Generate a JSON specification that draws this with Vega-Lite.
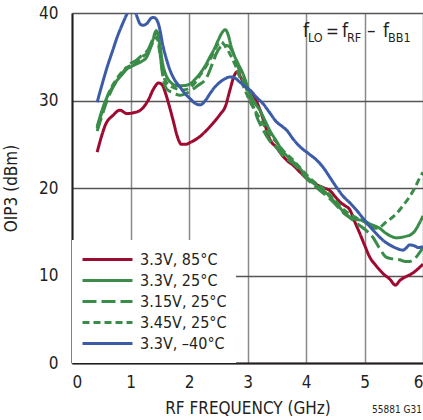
{
  "$schema": "https://vega.github.io/schema/vega-lite/v6.json",
  "autosize": {"type": "none"},
  "width": 351,
  "height": 350,
  "padding": {"left": 72, "top": 13, "right": 0, "bottom": 57},
  "background": "white",
  "config": {
    "font": "'Liberation Sans Narrow', 'DejaVu Sans Condensed', sans-serif",
    "view": {"stroke": null},
    "text": {"font": "'Liberation Sans Narrow', 'DejaVu Sans Condensed', sans-serif"},
    "axis": {"labelFont": "'Liberation Sans Narrow', 'DejaVu Sans Condensed', sans-serif", "titleFont": "'Liberation Sans Narrow', 'DejaVu Sans Condensed', sans-serif", "labelFontSize": 17, "titleFontSize": 17, "titleFontWeight": "normal", "labelColor": "#231f20", "titleColor": "#231f20", "domainColor": "#231f20", "domainWidth": 2, "ticks": false, "gridWidth": 1.5},
    "legend": {"labelFont": "'Liberation Sans Narrow', 'DejaVu Sans Condensed', sans-serif"}
  },
  "datasets": {
    "curves": [
      {"s": "3.3V, 85°C", "f": 0.43, "v": 24.1}, {"s": "3.3V, 85°C", "f": 0.50, "v": 25.8}, {"s": "3.3V, 85°C", "f": 0.57, "v": 27.2}, {"s": "3.3V, 85°C", "f": 0.70, "v": 28.3}, {"s": "3.3V, 85°C", "f": 0.82, "v": 28.9}, {"s": "3.3V, 85°C", "f": 0.94, "v": 28.5}, {"s": "3.3V, 85°C", "f": 1.05, "v": 28.6}, {"s": "3.3V, 85°C", "f": 1.17, "v": 28.9}, {"s": "3.3V, 85°C", "f": 1.30, "v": 30.0}, {"s": "3.3V, 85°C", "f": 1.40, "v": 31.4}, {"s": "3.3V, 85°C", "f": 1.48, "v": 32.0}, {"s": "3.3V, 85°C", "f": 1.54, "v": 31.8}, {"s": "3.3V, 85°C", "f": 1.60, "v": 30.8}, {"s": "3.3V, 85°C", "f": 1.67, "v": 29.2}, {"s": "3.3V, 85°C", "f": 1.73, "v": 27.7}, {"s": "3.3V, 85°C", "f": 1.80, "v": 25.9}, {"s": "3.3V, 85°C", "f": 1.87, "v": 25.0}, {"s": "3.3V, 85°C", "f": 1.95, "v": 25.0}, {"s": "3.3V, 85°C", "f": 2.02, "v": 25.2}, {"s": "3.3V, 85°C", "f": 2.19, "v": 25.9}, {"s": "3.3V, 85°C", "f": 2.30, "v": 26.6}, {"s": "3.3V, 85°C", "f": 2.41, "v": 27.4}, {"s": "3.3V, 85°C", "f": 2.53, "v": 28.4}, {"s": "3.3V, 85°C", "f": 2.62, "v": 29.3}, {"s": "3.3V, 85°C", "f": 2.70, "v": 31.2}, {"s": "3.3V, 85°C", "f": 2.77, "v": 32.8}, {"s": "3.3V, 85°C", "f": 2.83, "v": 33.3}, {"s": "3.3V, 85°C", "f": 2.88, "v": 32.7}, {"s": "3.3V, 85°C", "f": 2.95, "v": 31.8}, {"s": "3.3V, 85°C", "f": 3.04, "v": 31.0}, {"s": "3.3V, 85°C", "f": 3.10, "v": 30.6}, {"s": "3.3V, 85°C", "f": 3.16, "v": 29.8}, {"s": "3.3V, 85°C", "f": 3.21, "v": 29.0}, {"s": "3.3V, 85°C", "f": 3.30, "v": 27.2}, {"s": "3.3V, 85°C", "f": 3.38, "v": 25.6}, {"s": "3.3V, 85°C", "f": 3.50, "v": 24.6}, {"s": "3.3V, 85°C", "f": 3.61, "v": 23.6}, {"s": "3.3V, 85°C", "f": 3.70, "v": 23.0}, {"s": "3.3V, 85°C", "f": 3.78, "v": 22.6}, {"s": "3.3V, 85°C", "f": 3.90, "v": 21.8}, {"s": "3.3V, 85°C", "f": 4.01, "v": 21.1}, {"s": "3.3V, 85°C", "f": 4.10, "v": 20.7}, {"s": "3.3V, 85°C", "f": 4.21, "v": 20.3}, {"s": "3.3V, 85°C", "f": 4.31, "v": 20.0}, {"s": "3.3V, 85°C", "f": 4.41, "v": 19.7}, {"s": "3.3V, 85°C", "f": 4.50, "v": 19.0}, {"s": "3.3V, 85°C", "f": 4.58, "v": 18.4}, {"s": "3.3V, 85°C", "f": 4.66, "v": 18.0}, {"s": "3.3V, 85°C", "f": 4.75, "v": 17.5}, {"s": "3.3V, 85°C", "f": 4.83, "v": 16.2}, {"s": "3.3V, 85°C", "f": 4.92, "v": 14.8}, {"s": "3.3V, 85°C", "f": 5.00, "v": 13.5}, {"s": "3.3V, 85°C", "f": 5.09, "v": 12.1}, {"s": "3.3V, 85°C", "f": 5.20, "v": 11.1}, {"s": "3.3V, 85°C", "f": 5.32, "v": 10.2}, {"s": "3.3V, 85°C", "f": 5.43, "v": 9.6}, {"s": "3.3V, 85°C", "f": 5.53, "v": 8.9}, {"s": "3.3V, 85°C", "f": 5.60, "v": 9.4}, {"s": "3.3V, 85°C", "f": 5.66, "v": 9.7}, {"s": "3.3V, 85°C", "f": 5.75, "v": 10.0}, {"s": "3.3V, 85°C", "f": 5.83, "v": 10.3}, {"s": "3.3V, 85°C", "f": 5.92, "v": 10.8}, {"s": "3.3V, 85°C", "f": 6.00, "v": 11.3},

      {"s": "3.3V, 25°C", "f": 0.43, "v": 27.0}, {"s": "3.3V, 25°C", "f": 0.50, "v": 28.6}, {"s": "3.3V, 25°C", "f": 0.60, "v": 30.4}, {"s": "3.3V, 25°C", "f": 0.70, "v": 31.6}, {"s": "3.3V, 25°C", "f": 0.77, "v": 32.3}, {"s": "3.3V, 25°C", "f": 0.86, "v": 33.0}, {"s": "3.3V, 25°C", "f": 0.94, "v": 33.6}, {"s": "3.3V, 25°C", "f": 1.02, "v": 33.9}, {"s": "3.3V, 25°C", "f": 1.11, "v": 34.2}, {"s": "3.3V, 25°C", "f": 1.20, "v": 34.5}, {"s": "3.3V, 25°C", "f": 1.28, "v": 35.0}, {"s": "3.3V, 25°C", "f": 1.35, "v": 36.2}, {"s": "3.3V, 25°C", "f": 1.42, "v": 37.6}, {"s": "3.3V, 25°C", "f": 1.46, "v": 37.8}, {"s": "3.3V, 25°C", "f": 1.50, "v": 36.5}, {"s": "3.3V, 25°C", "f": 1.54, "v": 34.6}, {"s": "3.3V, 25°C", "f": 1.58, "v": 33.4}, {"s": "3.3V, 25°C", "f": 1.62, "v": 32.7}, {"s": "3.3V, 25°C", "f": 1.70, "v": 32.0}, {"s": "3.3V, 25°C", "f": 1.79, "v": 31.7}, {"s": "3.3V, 25°C", "f": 1.90, "v": 31.7}, {"s": "3.3V, 25°C", "f": 2.02, "v": 31.9}, {"s": "3.3V, 25°C", "f": 2.10, "v": 32.4}, {"s": "3.3V, 25°C", "f": 2.19, "v": 33.1}, {"s": "3.3V, 25°C", "f": 2.28, "v": 34.0}, {"s": "3.3V, 25°C", "f": 2.36, "v": 35.0}, {"s": "3.3V, 25°C", "f": 2.44, "v": 36.0}, {"s": "3.3V, 25°C", "f": 2.50, "v": 36.9}, {"s": "3.3V, 25°C", "f": 2.57, "v": 37.8}, {"s": "3.3V, 25°C", "f": 2.62, "v": 38.1}, {"s": "3.3V, 25°C", "f": 2.67, "v": 37.5}, {"s": "3.3V, 25°C", "f": 2.72, "v": 36.2}, {"s": "3.3V, 25°C", "f": 2.76, "v": 35.4}, {"s": "3.3V, 25°C", "f": 2.84, "v": 34.2}, {"s": "3.3V, 25°C", "f": 2.92, "v": 33.1}, {"s": "3.3V, 25°C", "f": 2.98, "v": 32.0}, {"s": "3.3V, 25°C", "f": 3.04, "v": 30.8}, {"s": "3.3V, 25°C", "f": 3.12, "v": 29.8}, {"s": "3.3V, 25°C", "f": 3.21, "v": 28.9}, {"s": "3.3V, 25°C", "f": 3.30, "v": 27.7}, {"s": "3.3V, 25°C", "f": 3.38, "v": 26.6}, {"s": "3.3V, 25°C", "f": 3.50, "v": 25.3}, {"s": "3.3V, 25°C", "f": 3.60, "v": 24.2}, {"s": "3.3V, 25°C", "f": 3.70, "v": 23.5}, {"s": "3.3V, 25°C", "f": 3.78, "v": 23.0}, {"s": "3.3V, 25°C", "f": 3.90, "v": 22.2}, {"s": "3.3V, 25°C", "f": 4.01, "v": 21.3}, {"s": "3.3V, 25°C", "f": 4.12, "v": 20.6}, {"s": "3.3V, 25°C", "f": 4.24, "v": 20.0}, {"s": "3.3V, 25°C", "f": 4.35, "v": 19.4}, {"s": "3.3V, 25°C", "f": 4.45, "v": 18.7}, {"s": "3.3V, 25°C", "f": 4.55, "v": 18.0}, {"s": "3.3V, 25°C", "f": 4.65, "v": 17.2}, {"s": "3.3V, 25°C", "f": 4.75, "v": 16.7}, {"s": "3.3V, 25°C", "f": 4.86, "v": 16.4}, {"s": "3.3V, 25°C", "f": 4.98, "v": 16.3}, {"s": "3.3V, 25°C", "f": 5.09, "v": 15.9}, {"s": "3.3V, 25°C", "f": 5.20, "v": 15.6}, {"s": "3.3V, 25°C", "f": 5.26, "v": 15.4}, {"s": "3.3V, 25°C", "f": 5.35, "v": 14.9}, {"s": "3.3V, 25°C", "f": 5.45, "v": 14.5}, {"s": "3.3V, 25°C", "f": 5.55, "v": 14.3}, {"s": "3.3V, 25°C", "f": 5.66, "v": 14.4}, {"s": "3.3V, 25°C", "f": 5.72, "v": 14.5}, {"s": "3.3V, 25°C", "f": 5.77, "v": 14.6}, {"s": "3.3V, 25°C", "f": 5.85, "v": 15.0}, {"s": "3.3V, 25°C", "f": 5.94, "v": 16.0}, {"s": "3.3V, 25°C", "f": 6.00, "v": 16.8},

      {"s": "3.15V, 25°C", "f": 0.43, "v": 26.5}, {"s": "3.15V, 25°C", "f": 0.50, "v": 28.0}, {"s": "3.15V, 25°C", "f": 0.60, "v": 30.0}, {"s": "3.15V, 25°C", "f": 0.70, "v": 31.5}, {"s": "3.15V, 25°C", "f": 0.80, "v": 32.6}, {"s": "3.15V, 25°C", "f": 0.90, "v": 33.5}, {"s": "3.15V, 25°C", "f": 1.00, "v": 34.2}, {"s": "3.15V, 25°C", "f": 1.10, "v": 34.6}, {"s": "3.15V, 25°C", "f": 1.20, "v": 35.2}, {"s": "3.15V, 25°C", "f": 1.30, "v": 35.8}, {"s": "3.15V, 25°C", "f": 1.38, "v": 37.0}, {"s": "3.15V, 25°C", "f": 1.44, "v": 38.0}, {"s": "3.15V, 25°C", "f": 1.48, "v": 37.0}, {"s": "3.15V, 25°C", "f": 1.52, "v": 34.5}, {"s": "3.15V, 25°C", "f": 1.56, "v": 32.5}, {"s": "3.15V, 25°C", "f": 1.62, "v": 31.3}, {"s": "3.15V, 25°C", "f": 1.72, "v": 30.9}, {"s": "3.15V, 25°C", "f": 1.85, "v": 30.6}, {"s": "3.15V, 25°C", "f": 1.95, "v": 30.8}, {"s": "3.15V, 25°C", "f": 2.05, "v": 31.2}, {"s": "3.15V, 25°C", "f": 2.15, "v": 31.7}, {"s": "3.15V, 25°C", "f": 2.30, "v": 32.6}, {"s": "3.15V, 25°C", "f": 2.40, "v": 34.2}, {"s": "3.15V, 25°C", "f": 2.47, "v": 35.4}, {"s": "3.15V, 25°C", "f": 2.56, "v": 36.2}, {"s": "3.15V, 25°C", "f": 2.64, "v": 36.3}, {"s": "3.15V, 25°C", "f": 2.70, "v": 36.1}, {"s": "3.15V, 25°C", "f": 2.76, "v": 35.3}, {"s": "3.15V, 25°C", "f": 2.82, "v": 34.2}, {"s": "3.15V, 25°C", "f": 2.90, "v": 32.7}, {"s": "3.15V, 25°C", "f": 2.99, "v": 31.2}, {"s": "3.15V, 25°C", "f": 3.10, "v": 29.3}, {"s": "3.15V, 25°C", "f": 3.18, "v": 27.8}, {"s": "3.15V, 25°C", "f": 3.27, "v": 26.6}, {"s": "3.15V, 25°C", "f": 3.38, "v": 25.4}, {"s": "3.15V, 25°C", "f": 3.50, "v": 24.6}, {"s": "3.15V, 25°C", "f": 3.62, "v": 23.6}, {"s": "3.15V, 25°C", "f": 3.78, "v": 22.8}, {"s": "3.15V, 25°C", "f": 3.90, "v": 22.0}, {"s": "3.15V, 25°C", "f": 4.01, "v": 21.1}, {"s": "3.15V, 25°C", "f": 4.12, "v": 20.4}, {"s": "3.15V, 25°C", "f": 4.24, "v": 19.7}, {"s": "3.15V, 25°C", "f": 4.35, "v": 19.1}, {"s": "3.15V, 25°C", "f": 4.45, "v": 18.5}, {"s": "3.15V, 25°C", "f": 4.55, "v": 17.8}, {"s": "3.15V, 25°C", "f": 4.65, "v": 17.1}, {"s": "3.15V, 25°C", "f": 4.75, "v": 16.6}, {"s": "3.15V, 25°C", "f": 4.86, "v": 16.0}, {"s": "3.15V, 25°C", "f": 4.98, "v": 15.4}, {"s": "3.15V, 25°C", "f": 5.07, "v": 14.9}, {"s": "3.15V, 25°C", "f": 5.14, "v": 14.4}, {"s": "3.15V, 25°C", "f": 5.25, "v": 13.2}, {"s": "3.15V, 25°C", "f": 5.37, "v": 12.1}, {"s": "3.15V, 25°C", "f": 5.48, "v": 11.9}, {"s": "3.15V, 25°C", "f": 5.60, "v": 11.8}, {"s": "3.15V, 25°C", "f": 5.70, "v": 11.6}, {"s": "3.15V, 25°C", "f": 5.77, "v": 11.6}, {"s": "3.15V, 25°C", "f": 5.87, "v": 12.0}, {"s": "3.15V, 25°C", "f": 5.97, "v": 12.9}, {"s": "3.15V, 25°C", "f": 6.00, "v": 13.2},

      {"s": "3.45V, 25°C", "f": 0.43, "v": 26.8}, {"s": "3.45V, 25°C", "f": 0.50, "v": 28.4}, {"s": "3.45V, 25°C", "f": 0.60, "v": 30.4}, {"s": "3.45V, 25°C", "f": 0.70, "v": 31.8}, {"s": "3.45V, 25°C", "f": 0.80, "v": 32.8}, {"s": "3.45V, 25°C", "f": 0.90, "v": 33.6}, {"s": "3.45V, 25°C", "f": 1.00, "v": 34.0}, {"s": "3.45V, 25°C", "f": 1.10, "v": 34.4}, {"s": "3.45V, 25°C", "f": 1.20, "v": 35.0}, {"s": "3.45V, 25°C", "f": 1.30, "v": 35.5}, {"s": "3.45V, 25°C", "f": 1.38, "v": 36.6}, {"s": "3.45V, 25°C", "f": 1.45, "v": 37.2}, {"s": "3.45V, 25°C", "f": 1.50, "v": 35.5}, {"s": "3.45V, 25°C", "f": 1.55, "v": 33.3}, {"s": "3.45V, 25°C", "f": 1.60, "v": 32.2}, {"s": "3.45V, 25°C", "f": 1.70, "v": 31.6}, {"s": "3.45V, 25°C", "f": 1.80, "v": 31.3}, {"s": "3.45V, 25°C", "f": 1.90, "v": 31.2}, {"s": "3.45V, 25°C", "f": 2.00, "v": 31.4}, {"s": "3.45V, 25°C", "f": 2.10, "v": 32.0}, {"s": "3.45V, 25°C", "f": 2.20, "v": 33.0}, {"s": "3.45V, 25°C", "f": 2.30, "v": 34.0}, {"s": "3.45V, 25°C", "f": 2.40, "v": 35.2}, {"s": "3.45V, 25°C", "f": 2.48, "v": 36.3}, {"s": "3.45V, 25°C", "f": 2.55, "v": 36.7}, {"s": "3.45V, 25°C", "f": 2.62, "v": 36.2}, {"s": "3.45V, 25°C", "f": 2.70, "v": 35.3}, {"s": "3.45V, 25°C", "f": 2.78, "v": 34.2}, {"s": "3.45V, 25°C", "f": 2.86, "v": 32.8}, {"s": "3.45V, 25°C", "f": 2.95, "v": 31.3}, {"s": "3.45V, 25°C", "f": 3.05, "v": 29.8}, {"s": "3.45V, 25°C", "f": 3.15, "v": 28.6}, {"s": "3.45V, 25°C", "f": 3.27, "v": 27.3}, {"s": "3.45V, 25°C", "f": 3.38, "v": 26.1}, {"s": "3.45V, 25°C", "f": 3.50, "v": 25.2}, {"s": "3.45V, 25°C", "f": 3.62, "v": 24.2}, {"s": "3.45V, 25°C", "f": 3.78, "v": 23.2}, {"s": "3.45V, 25°C", "f": 3.90, "v": 22.3}, {"s": "3.45V, 25°C", "f": 4.01, "v": 21.5}, {"s": "3.45V, 25°C", "f": 4.12, "v": 20.8}, {"s": "3.45V, 25°C", "f": 4.24, "v": 20.2}, {"s": "3.45V, 25°C", "f": 4.35, "v": 19.6}, {"s": "3.45V, 25°C", "f": 4.45, "v": 18.9}, {"s": "3.45V, 25°C", "f": 4.55, "v": 18.2}, {"s": "3.45V, 25°C", "f": 4.65, "v": 17.5}, {"s": "3.45V, 25°C", "f": 4.75, "v": 17.0}, {"s": "3.45V, 25°C", "f": 4.86, "v": 16.6}, {"s": "3.45V, 25°C", "f": 4.98, "v": 16.2}, {"s": "3.45V, 25°C", "f": 5.09, "v": 15.7}, {"s": "3.45V, 25°C", "f": 5.18, "v": 15.4}, {"s": "3.45V, 25°C", "f": 5.26, "v": 15.5}, {"s": "3.45V, 25°C", "f": 5.35, "v": 16.0}, {"s": "3.45V, 25°C", "f": 5.45, "v": 16.5}, {"s": "3.45V, 25°C", "f": 5.55, "v": 17.1}, {"s": "3.45V, 25°C", "f": 5.66, "v": 18.0}, {"s": "3.45V, 25°C", "f": 5.77, "v": 19.0}, {"s": "3.45V, 25°C", "f": 5.86, "v": 20.0}, {"s": "3.45V, 25°C", "f": 5.94, "v": 21.1}, {"s": "3.45V, 25°C", "f": 6.00, "v": 21.8},

      {"s": "3.3V, –40°C", "f": 0.43, "v": 29.8}, {"s": "3.3V, –40°C", "f": 0.50, "v": 31.5}, {"s": "3.3V, –40°C", "f": 0.60, "v": 33.8}, {"s": "3.3V, –40°C", "f": 0.70, "v": 35.8}, {"s": "3.3V, –40°C", "f": 0.77, "v": 37.2}, {"s": "3.3V, –40°C", "f": 0.86, "v": 38.7}, {"s": "3.3V, –40°C", "f": 0.94, "v": 39.9}, {"s": "3.3V, –40°C", "f": 1.00, "v": 40.7}, {"s": "3.3V, –40°C", "f": 1.05, "v": 40.6}, {"s": "3.3V, –40°C", "f": 1.11, "v": 39.6}, {"s": "3.3V, –40°C", "f": 1.17, "v": 38.7}, {"s": "3.3V, –40°C", "f": 1.22, "v": 38.6}, {"s": "3.3V, –40°C", "f": 1.28, "v": 38.8}, {"s": "3.3V, –40°C", "f": 1.35, "v": 39.4}, {"s": "3.3V, –40°C", "f": 1.39, "v": 39.5}, {"s": "3.3V, –40°C", "f": 1.44, "v": 39.3}, {"s": "3.3V, –40°C", "f": 1.48, "v": 38.7}, {"s": "3.3V, –40°C", "f": 1.56, "v": 36.1}, {"s": "3.3V, –40°C", "f": 1.62, "v": 34.6}, {"s": "3.3V, –40°C", "f": 1.68, "v": 33.4}, {"s": "3.3V, –40°C", "f": 1.76, "v": 32.3}, {"s": "3.3V, –40°C", "f": 1.85, "v": 31.5}, {"s": "3.3V, –40°C", "f": 1.93, "v": 30.8}, {"s": "3.3V, –40°C", "f": 2.02, "v": 30.2}, {"s": "3.3V, –40°C", "f": 2.10, "v": 29.7}, {"s": "3.3V, –40°C", "f": 2.19, "v": 29.5}, {"s": "3.3V, –40°C", "f": 2.28, "v": 30.0}, {"s": "3.3V, –40°C", "f": 2.36, "v": 30.8}, {"s": "3.3V, –40°C", "f": 2.45, "v": 31.6}, {"s": "3.3V, –40°C", "f": 2.53, "v": 32.1}, {"s": "3.3V, –40°C", "f": 2.62, "v": 32.5}, {"s": "3.3V, –40°C", "f": 2.70, "v": 32.7}, {"s": "3.3V, –40°C", "f": 2.80, "v": 32.5}, {"s": "3.3V, –40°C", "f": 2.87, "v": 32.1}, {"s": "3.3V, –40°C", "f": 2.96, "v": 31.6}, {"s": "3.3V, –40°C", "f": 3.04, "v": 31.2}, {"s": "3.3V, –40°C", "f": 3.15, "v": 30.4}, {"s": "3.3V, –40°C", "f": 3.27, "v": 29.6}, {"s": "3.3V, –40°C", "f": 3.38, "v": 28.6}, {"s": "3.3V, –40°C", "f": 3.49, "v": 27.6}, {"s": "3.3V, –40°C", "f": 3.60, "v": 27.0}, {"s": "3.3V, –40°C", "f": 3.67, "v": 26.6}, {"s": "3.3V, –40°C", "f": 3.78, "v": 25.6}, {"s": "3.3V, –40°C", "f": 3.90, "v": 24.7}, {"s": "3.3V, –40°C", "f": 4.05, "v": 23.9}, {"s": "3.3V, –40°C", "f": 4.18, "v": 23.2}, {"s": "3.3V, –40°C", "f": 4.30, "v": 22.3}, {"s": "3.3V, –40°C", "f": 4.41, "v": 21.2}, {"s": "3.3V, –40°C", "f": 4.52, "v": 20.1}, {"s": "3.3V, –40°C", "f": 4.63, "v": 19.1}, {"s": "3.3V, –40°C", "f": 4.75, "v": 18.3}, {"s": "3.3V, –40°C", "f": 4.86, "v": 17.5}, {"s": "3.3V, –40°C", "f": 4.98, "v": 16.5}, {"s": "3.3V, –40°C", "f": 5.09, "v": 15.6}, {"s": "3.3V, –40°C", "f": 5.20, "v": 14.8}, {"s": "3.3V, –40°C", "f": 5.32, "v": 14.0}, {"s": "3.3V, –40°C", "f": 5.43, "v": 13.5}, {"s": "3.3V, –40°C", "f": 5.55, "v": 13.1}, {"s": "3.3V, –40°C", "f": 5.66, "v": 12.9}, {"s": "3.3V, –40°C", "f": 5.72, "v": 13.2}, {"s": "3.3V, –40°C", "f": 5.77, "v": 13.5}, {"s": "3.3V, –40°C", "f": 5.85, "v": 13.4}, {"s": "3.3V, –40°C", "f": 5.92, "v": 13.2}, {"s": "3.3V, –40°C", "f": 6.00, "v": 13.3}
    ]
  },
  "layer": [
    {
      "data": {"name": "curves"},
      "mark": {"type": "line", "strokeWidth": 3, "clip": true, "interpolate": "monotone"},
      "encoding": {
        "x": {"field": "f", "type": "quantitative", "scale": {"domain": [0, 6], "nice": false},
          "axis": {"title": "RF FREQUENCY (GHz)", "values": [0, 1, 2, 3, 4, 5, 6], "format": "d", "gridColor": "#8a8a8a", "labelPadding": 11, "titlePadding": 10}},
        "y": {"field": "v", "type": "quantitative", "scale": {"domain": [0, 40], "nice": false},
          "axis": {"title": "OIP3 (dBm)", "values": [0, 10, 20, 30, 40], "gridColor": "#555555", "labelPadding": 14, "titlePadding": 18}},
        "color": {"field": "s", "type": "nominal", "title": null,
          "scale": {"domain": ["3.3V, 85°C", "3.3V, 25°C", "3.15V, 25°C", "3.45V, 25°C", "3.3V, –40°C"], "range": ["#9e0b30", "#3a8c48", "#3a8c48", "#3a8c48", "#3d5ca8"]},
          "legend": {"orient": "none", "legendX": 0, "legendY": 227, "fillColor": "white", "padding": 9, "symbolType": "stroke", "symbolSize": 2500, "symbolStrokeWidth": 3, "labelFontSize": 16, "labelColor": "#231f20", "labelOffset": 6, "clipHeight": 21, "rowPadding": 0, "labelLimit": 200}},
        "strokeDash": {"field": "s", "type": "nominal", "title": null,
          "scale": {"domain": ["3.3V, 85°C", "3.3V, 25°C", "3.15V, 25°C", "3.45V, 25°C", "3.3V, –40°C"], "range": [[1, 0], [1, 0], [14, 5], [7, 4], [1, 0]]},
          "legend": {"orient": "none", "legendX": 0, "legendY": 227, "fillColor": "white", "padding": 9, "symbolType": "stroke", "symbolSize": 2500, "symbolStrokeWidth": 3, "labelFontSize": 16, "labelColor": "#231f20", "labelOffset": 6, "clipHeight": 21, "rowPadding": 0, "labelLimit": 200}}
      }
    },
    {"data": {"values": [{}]}, "mark": {"type": "text", "text": "f", "fontSize": 19, "align": "left", "baseline": "alphabetic", "dx": -3, "color": "#231f20"}, "encoding": {"x": {"datum": 4}, "y": {"datum": 37.25}}},
    {"data": {"values": [{}]}, "mark": {"type": "text", "text": "LO", "fontSize": 12.5, "align": "left", "baseline": "alphabetic", "dx": 2, "dy": 5, "color": "#231f20"}, "encoding": {"x": {"datum": 4}, "y": {"datum": 37.25}}},
    {"data": {"values": [{}]}, "mark": {"type": "text", "text": "=", "fontSize": 17, "align": "left", "baseline": "alphabetic", "dx": 20, "color": "#231f20"}, "encoding": {"x": {"datum": 4}, "y": {"datum": 37.25}}},
    {"data": {"values": [{}]}, "mark": {"type": "text", "text": "f", "fontSize": 19, "align": "left", "baseline": "alphabetic", "dx": 36, "color": "#231f20"}, "encoding": {"x": {"datum": 4}, "y": {"datum": 37.25}}},
    {"data": {"values": [{}]}, "mark": {"type": "text", "text": "RF", "fontSize": 12.5, "align": "left", "baseline": "alphabetic", "dx": 41, "dy": 5, "color": "#231f20"}, "encoding": {"x": {"datum": 4}, "y": {"datum": 37.25}}},
    {"data": {"values": [{}]}, "mark": {"type": "text", "text": "–", "fontSize": 19, "align": "left", "baseline": "alphabetic", "dx": 61, "color": "#231f20"}, "encoding": {"x": {"datum": 4}, "y": {"datum": 37.25}}},
    {"data": {"values": [{}]}, "mark": {"type": "text", "text": "f", "fontSize": 19, "align": "left", "baseline": "alphabetic", "dx": 77, "color": "#231f20"}, "encoding": {"x": {"datum": 4}, "y": {"datum": 37.25}}},
    {"data": {"values": [{}]}, "mark": {"type": "text", "text": "BB1", "fontSize": 12.5, "align": "left", "baseline": "alphabetic", "dx": 82, "dy": 5, "color": "#231f20"}, "encoding": {"x": {"datum": 4}, "y": {"datum": 37.25}}},
    {"data": {"values": [{}]}, "mark": {"type": "text", "text": "55881 G31", "fontSize": 10, "align": "right", "baseline": "alphabetic", "dx": -1, "color": "#231f20"}, "encoding": {"x": {"datum": 6}, "y": {"datum": -5.7}}}
  ]
}
